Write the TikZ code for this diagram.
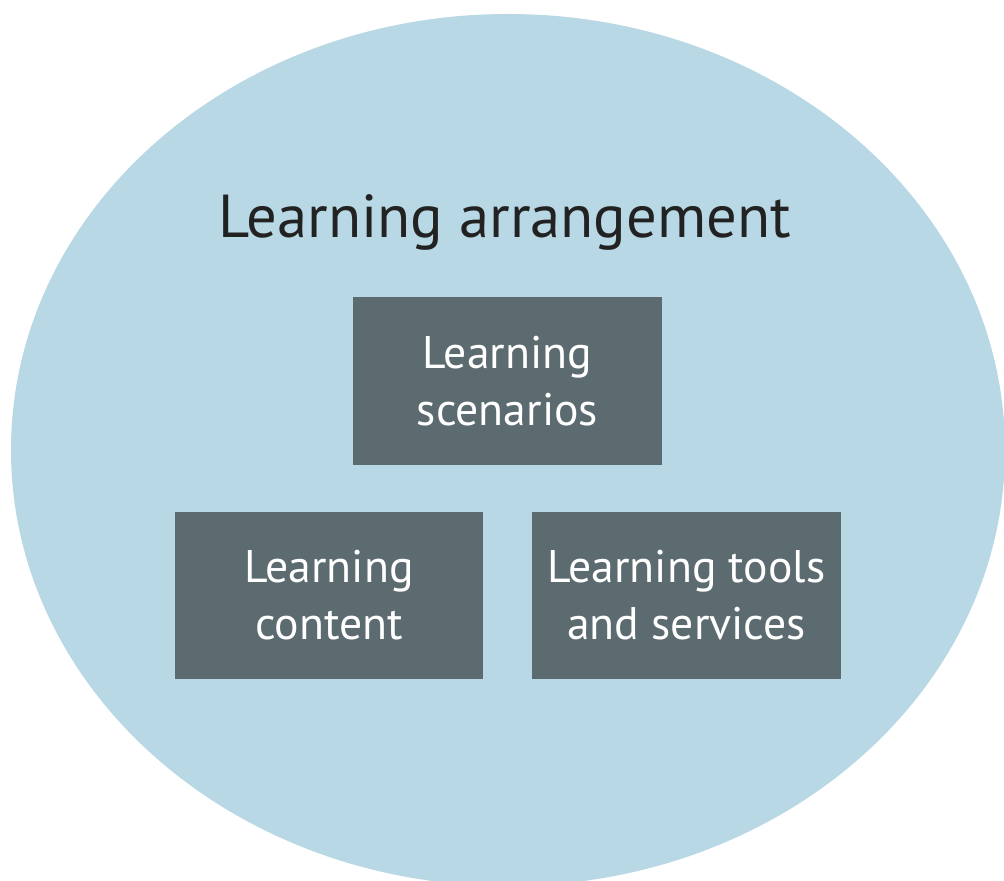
\documentclass[tikz,border=0pt]{standalone}
\usepackage{fontspec}
\setmainfont{PT Sans}
\usepackage{tikz}
\definecolor{arrangeblue}{HTML}{B7D8E4}
\definecolor{boxgray}{HTML}{5C6B70}
\definecolor{titlegray}{HTML}{222222}
\tikzset{
  partbox/.style={fill=boxgray,text=white,align=center,minimum width=6.18cm,
    minimum height=3.36cm,inner sep=0pt,font=\fontsize{26}{32.5}\selectfont}
}
\begin{document}
\begin{tikzpicture}[x=0.02cm,y=-0.02cm]
\useasboundingbox[fill=white](0,0) rectangle (1004,881);
\fill[arrangeblue](508,450) ellipse [x radius=497,y radius=436]; %arrangement
%title
\node[font=\fontsize{34.5}{40}\selectfont,text=titlegray](arr) at (505,222){Learning arrangement};
%parts
\node[partbox](scen) at (507.5,381){Learning\\scenarios};
\node[partbox](cont) at (329,595.5){Learning\\content};
\node[partbox](tools) at (686.5,595.5){Learning tools\\and services};
\end{tikzpicture}
\end{document}
